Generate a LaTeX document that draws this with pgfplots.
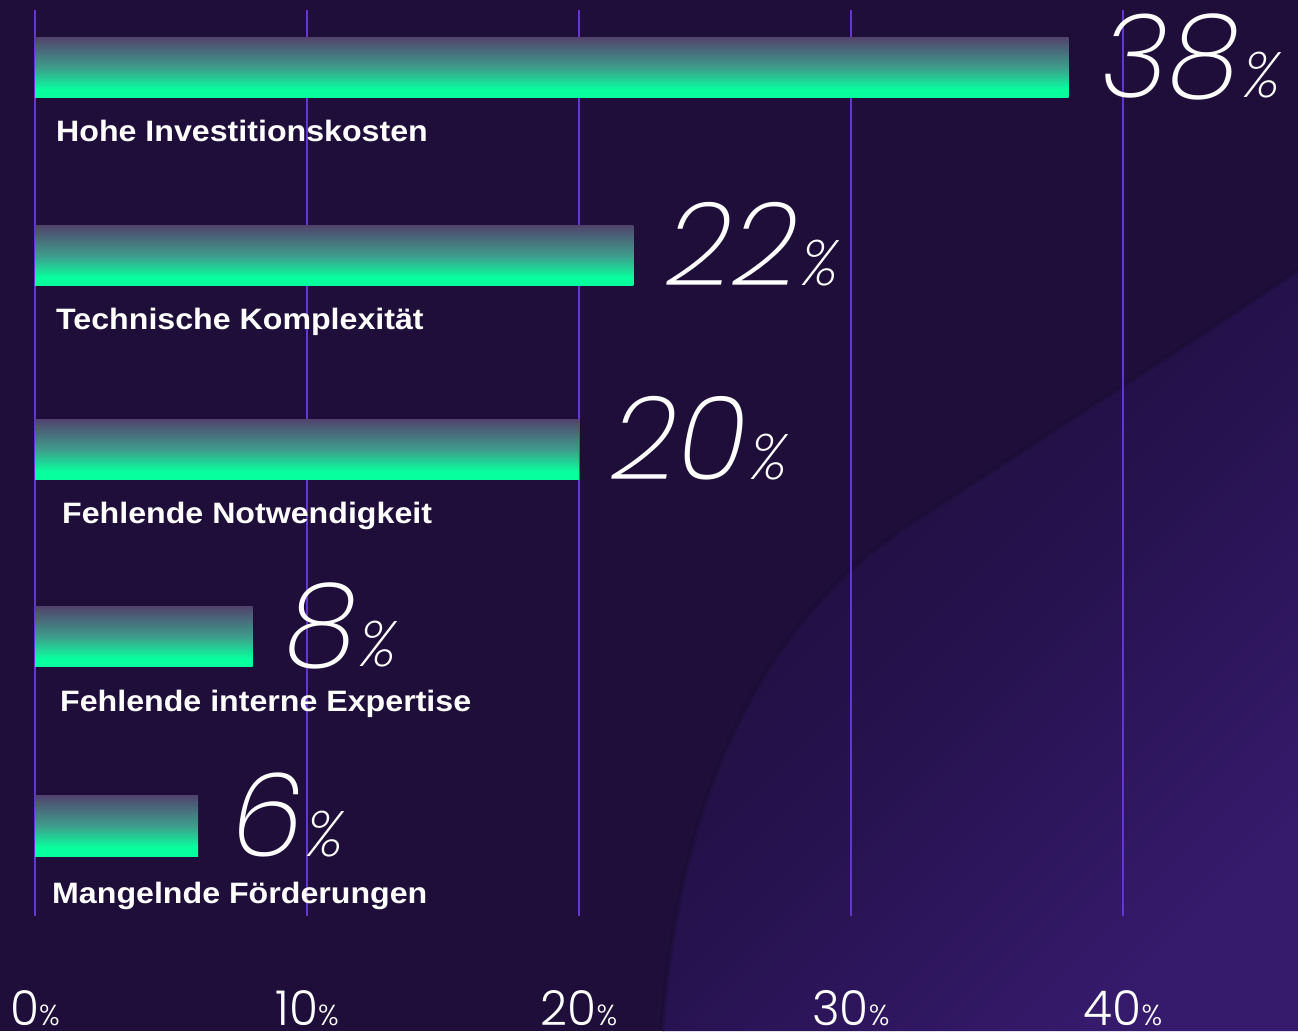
\documentclass[border=0pt]{standalone}
\usepackage{pgfplots}
\pgfplotsset{compat=1.18}
\usepackage{fontspec}
\setmainfont{Liberation Sans}
\IfFontExistsTF{Poppins ExtraLight Italic}
  {\newfontfamily\numfont{Poppins ExtraLight Italic}}
  {\IfFontExistsTF{Poppins Light}
    {\newfontfamily\numfont{Poppins Light}[FakeSlant=0.2]}
    {\newfontfamily\numfont{DejaVu Sans}[FakeSlant=0.2]}}
\IfFontExistsTF{Poppins Light}
  {\newfontfamily\tickfont{Poppins Light}[FakeStretch=0.98]}
  {\newfontfamily\tickfont{DejaVu Sans}[FakeStretch=0.98]}
\newfontfamily\labfont{Liberation Sans}[FakeStretch=1.09]
\definecolor{bgA}{HTML}{1E0E39}
\definecolor{bgM}{HTML}{26124E}
\definecolor{bgB}{HTML}{361A6C}
\definecolor{bgD}{HTML}{1A0C33}
\definecolor{gridc}{HTML}{6535D0}
\definecolor{grn}{HTML}{08FF9D}
\definecolor{midc}{HTML}{3E9E8C}
\definecolor{topc}{HTML}{51466E}
\pgfdeclareverticalshading{barshade}{100bp}{color(0bp)=(grn); color(25bp)=(grn); color(32bp)=(grn); color(50bp)=(midc); color(75bp)=(topc); color(100bp)=(topc)}
\pgfdeclareverticalshading{bgshade}{100bp}{color(0bp)=(bgB); color(25bp)=(bgB); color(50bp)=(bgM); color(75bp)=(bgA); color(100bp)=(bgA)}
\begin{document}
\begin{tikzpicture}[x=1pt,y=1pt]
\useasboundingbox (0,0) rectangle (1298,1031);
\fill[bgA] (0,0) rectangle (1298,1031);
\begin{scope}
\clip (0,0) rectangle (1298,1031);
\shade[shading=bgshade, shading angle=45]
  (662,0) .. controls (680,260) and (780,420) .. (900,500) .. controls (1020,580) and (1150,660) .. (1298,761) -- (1298,0) -- cycle;
\draw[bgD, line width=5pt, opacity=0.4]
  (662,0) .. controls (680,260) and (780,420) .. (900,500) .. controls (1020,580) and (1150,660) .. (1298,761);
\end{scope}
\begin{axis}[
  at={(0,0)}, anchor=south west,
  scale only axis, width=1298pt, height=1031pt,
  xmin=-1.2868, xmax=46.434, ymin=-1031, ymax=0,
  hide axis, clip=false,
]
% grid lines
\pgfplotsinvokeforeach{0,10,20,30,40}{
  \addplot[gridc, line width=1.6pt, forget plot] coordinates {(#1,-10) (#1,-916)};
}
% bars (one plot per bar so each carries its own gradient)
\addplot[xbar, bar width=60, draw=none, shading=barshade] coordinates {(38,-68)};
\addplot[xbar, bar width=60, draw=none, shading=barshade] coordinates {(22,-256)};
\addplot[xbar, bar width=60, draw=none, shading=barshade] coordinates {(20,-450)};
\addplot[xbar, bar width=60, draw=none, shading=barshade] coordinates {(8,-637)};
\addplot[xbar, bar width=60, draw=none, shading=barshade] coordinates {(6,-826)};
% value labels
\pgfplotsforeachungrouped \v/\yb in {38/-98, 22/-286, 20/-480, 8/-667, 6/-856}{
  \edef\tmp{\noexpand\node[anchor=base west, inner sep=0pt, text=white, font=\noexpand\numfont] at (axis cs:\v+1.2,\yb) {\noexpand\fontsize{116}{116}\noexpand\selectfont\v\noexpand\kern3pt\noexpand\fontsize{64}{64}\noexpand\selectfont\noexpand\%};}
  \tmp
}
% category labels
\node[anchor=base west, inner sep=0pt, text=white, font=\labfont\bfseries\fontsize{29.5}{29.5}\selectfont] at (axis cs:0.772,-142) {Hohe Investitionskosten};
\node[anchor=base west, inner sep=0pt, text=white, font=\labfont\bfseries\fontsize{29.5}{29.5}\selectfont] at (axis cs:0.772,-330) {Technische Komplexität};
\node[anchor=base west, inner sep=0pt, text=white, font=\labfont\bfseries\fontsize{29.5}{29.5}\selectfont] at (axis cs:0.993,-524) {Fehlende Notwendigkeit};
\node[anchor=base west, inner sep=0pt, text=white, font=\labfont\bfseries\fontsize{29.5}{29.5}\selectfont] at (axis cs:0.919,-712) {Fehlende interne Expertise};
\node[anchor=base west, inner sep=0pt, text=white, font=\labfont\bfseries\fontsize{29.5}{29.5}\selectfont] at (axis cs:0.625,-903) {Mangelnde Förderungen};
% tick labels
\pgfplotsforeachungrouped \t in {0,10,20,30,40}{
  \edef\tmp{\noexpand\node[anchor=base, inner sep=0pt, text=white, font=\noexpand\tickfont] at (axis cs:\t,-1025) {\noexpand\fontsize{48}{48}\noexpand\selectfont\t\noexpand\fontsize{29}{29}\noexpand\selectfont\noexpand\%};}
  \tmp
}
\end{axis}
\end{tikzpicture}
\end{document}
